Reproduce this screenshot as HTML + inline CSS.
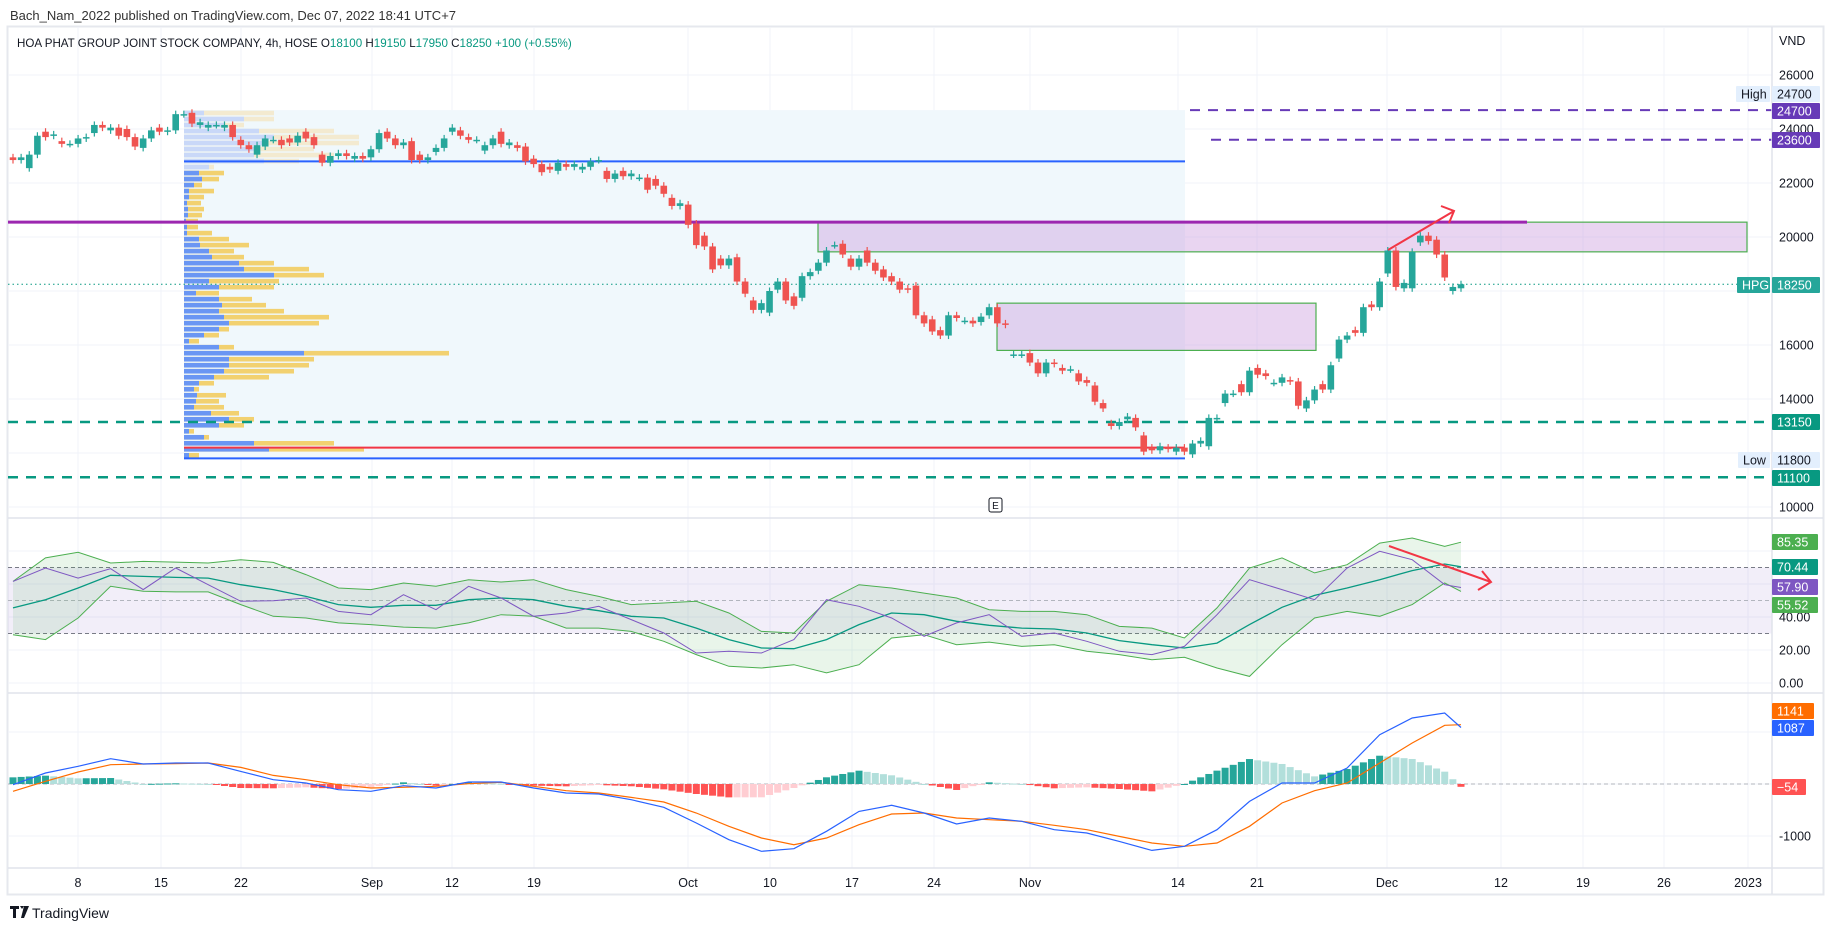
<!DOCTYPE html>
<html><head><meta charset="utf-8"><style>
body{margin:0;background:#fff;font-family:"Liberation Sans",sans-serif;}
svg{display:block}
text{font-family:"Liberation Sans",sans-serif;}
</style></head><body>
<svg id="chart" width="1834" height="931" viewBox="0 0 1834 931" xmlns="http://www.w3.org/2000/svg">
<rect x="0" y="0" width="1834" height="931" fill="#fff"/>
<text x="10" y="20" font-size="13" fill="#333">Bach_Nam_2022 published on TradingView.com, Dec 07, 2022 18:41 UTC+7</text>
<rect x="7.5" y="26.5" width="1816" height="868" fill="none" stroke="#e6e8ee" stroke-width="2"/>
<g id="grid"></g>
<g id="main"></g>
<g id="rsi"></g>
<g id="macd"></g>
<line x1="8" y1="518" x2="1823" y2="518" stroke="#e0e3eb" stroke-width="1.5"/>
<line x1="8" y1="693" x2="1823" y2="693" stroke="#e0e3eb" stroke-width="1.5"/>
<line x1="8" y1="868" x2="1823" y2="868" stroke="#e0e3eb" stroke-width="1.5"/>
<line x1="1772" y1="27" x2="1772" y2="894" stroke="#e0e3eb" stroke-width="1.5"/>
<text x="17" y="47" font-size="11.6" fill="#131722">HOA PHAT GROUP JOINT STOCK COMPANY, 4h, HOSE  <tspan>O</tspan><tspan fill="#089981">18100</tspan>  H<tspan fill="#089981">19150</tspan>  L<tspan fill="#089981">17950</tspan>  C<tspan fill="#089981">18250</tspan>  <tspan fill="#089981">+100 (+0.55%)</tspan></text>
<g id="axis" font-size="12.5" fill="#131722"></g>
<g id="time" font-size="12.5" fill="#131722"></g>
<g>
<path d="M10 906h9v3h-3v9h-3v-9h-3z M20 906h4l-2 3z M24 906h5l-5 12h-3z" fill="#131722"/>
<text x="32" y="918" font-size="14" fill="#131722">TradingView</text>
</g>
</svg>
<script>
const NS='http://www.w3.org/2000/svg';
// ---- price data (4h bars) ----
const opens=[22950,22850,22550,23050,23900,23750,23550,23450,23450,23650,
23850,24150,23950,24050,24000,23700,23300,23650,24050,23900,
23950,24550,24600,24150,24050,24150,24050,24150,23600,23400,
23050,23350,23600,23600,23650,23500,23900,23700,23050,22750,
23000,23100,22900,23000,22950,23250,23900,23650,23400,23550,
23050,22850,23150,23300,23900,23950,23700,23600,23200,23400,
23900,23400,23400,23350,22900,22700,22600,22450,22700,22600,
22500,22600,22850,22450,22150,22450,22250,22200,22200,22150,
21900,21450,21150,21200,20500,20050,19650,19200,18950,19250,
18350,17650,17300,17200,18050,18350,17800,17750,18550,18750,
19050,19700,19750,19200,18900,19500,19050,18800,18550,18350,
18100,18200,17100,16950,16550,16350,17100,16900,16900,16850,
17100,17400,16800,15650,15650,15700,15350,14950,15350,15150,
15100,14950,14700,14500,13850,13100,13000,13250,13300,12650,
12200,12100,12200,12050,12200,11950,12350,12250,13300,13850,
14200,14550,14250,15150,14950,14600,14600,14700,14650,13650,
13950,14550,14350,15500,16200,16550,16450,17500,17400,18650,
19500,18100,18100,19800,20050,19900,19350,18000,18100];
const closes=[22850,22950,23050,23750,23700,23800,23450,23450,23650,23700,
24150,24050,24050,23750,23700,23350,23650,23950,23900,23950,
24550,24550,24200,24250,24150,24150,24150,23700,23400,23250,
23400,23650,23600,23400,23500,23750,23650,23400,22750,23000,
23100,23000,23000,22900,23250,23850,23650,23400,23500,22850,
22850,22950,23300,23650,24050,23750,23600,23600,23400,23650,
23450,23500,23300,22800,22700,22400,22500,22750,22600,22700,
22600,22800,22850,22150,22350,22250,22350,22200,21750,21900,
21600,21150,21250,20450,19700,19650,18800,18950,19200,18350,
17900,17300,17550,18000,18350,17650,17450,18550,18700,19050,
19500,19700,19350,18900,19200,19050,18750,18500,18350,18050,
18050,17100,16800,16500,16350,17100,17000,16900,16800,17050,
17400,16800,16750,15650,15650,15350,14950,15350,15300,15050,
15100,14650,14600,13900,13650,13000,13150,13350,12950,12050,
12100,12250,12150,12200,12050,12350,12450,13300,13300,14200,
14200,14250,15050,14900,14850,14600,14800,14650,13750,13950,
14350,14350,15250,16200,16350,16450,17400,17400,18350,19500,
18150,18300,19450,20050,19850,19350,18500,18150,18250];
// ---- price axis ticks ----
const priceTicks=[26000,24000,22000,20000,16000,14000,10000];
const priceGridTicks=[26000,24000,22000,20000,18000,16000,14000,12000,10000];
// ---- volume profile rows ----
const vpUp=[20,60,40,75,90,80,75,70,80,25,15,18,10,5,5,3,4,4,2,3,3,15,16,25,28,55,60,90,25,35,12,35,38,35,40,45,35,20,5,35,120,45,45,40,30,15,10,13,12,10,27,45,35,5,20,70,85,5];
const vpTotal=[90,90,60,150,175,175,130,150,115,30,40,35,18,30,20,17,20,18,14,14,28,45,65,50,60,90,125,140,95,90,35,68,82,100,145,135,45,35,15,50,265,130,125,110,85,30,15,42,35,40,55,70,60,10,25,150,180,15];
// ---- RSI pane (sampled every 4 bars) ----
const sampleIdx=[0,4,8,12,16,20,24,28,32,36,40,44,48,52,56,60,64,68,72,76,80,84,88,92,96,100,104,108,112,116,120,124,128,132,136,140,144,148,152,156,160,164,168,172,176,178];
const rsiVals=[61.6,69.7,63.6,69.3,56.6,69.7,59.6,49.5,49.9,51.5,43.4,41.4,53.5,44.4,58.6,51.5,40.4,42.4,46.5,38.4,30.3,18.2,19.2,18.2,26.3,50.5,46.5,39.4,28.3,36.4,41.4,28.3,30.3,25.3,19.2,17.2,22.2,41.4,62.6,56.6,50.5,69.7,79.8,74.7,59.6,57.9];
const rsiMA=[45.5,50.5,57.6,65.3,64.6,64,63.6,59.6,56.6,52.5,47.5,45.9,47.1,47.1,50.5,51.5,50.5,46.5,43.8,40.4,39.4,33.3,26.3,21.2,20.8,26.3,35.4,42.4,41.4,37.4,35,33.3,32.7,30.3,25.7,23.2,21.2,24.2,35.4,45.9,53.1,57.6,62.6,68.1,72.1,70.4];
const rsiUpper=[61.6,75.8,79.2,72.7,73.7,73.3,72.7,74.7,73.1,65.7,57.6,56.6,60.6,58.6,62.6,61.2,62.6,56.6,52.5,47.5,48.5,49.5,42.4,31.3,30.3,49.5,59.6,57.6,54.5,51.5,44.4,43.4,43.4,41.4,34.3,33.3,27.3,45.5,69.7,75.8,66.7,71.7,84.8,87.9,82.8,85.35];
const rsiLower=[29.3,26.3,39.4,58.6,55.6,55.2,55.2,47.5,40.4,39.4,36.4,35.4,33.9,33.3,36.4,41.4,40.4,33.3,33.3,31.3,25.3,17.2,10.1,9.1,11.1,6.1,11.1,27.3,29.3,23.2,24.8,22.2,23.2,19.2,17.2,14.1,15.6,9.1,4.0,23.2,39.4,43.4,40.4,47.5,60.6,55.5];
const rsiTicks=[40,20,0];
// ---- MACD pane ----
const macdLine=[-13,211,340,487,384,404,404,243,83,19,-109,-141,-32,-77,38,38,-77,-173,-192,-301,-449,-750,-1071,-1295,-1244,-910,-526,-410,-558,-769,-654,-718,-878,-942,-1103,-1276,-1199,-878,-334,19,19,307,948,1269,1365,1087];
const signalLine=[-141,51,231,372,384,391,404,320,166,83,-13,-77,-64,-45,6,32,-45,-128,-173,-257,-346,-558,-814,-1039,-1167,-1039,-782,-577,-558,-654,-686,-718,-795,-878,-1007,-1135,-1199,-1135,-814,-366,-128,19,404,788,1128,1141];
const macdTicks=[-1000];
// ---- time axis ----
const timeLabels=['8','15','22','Sep','12','19','Oct','10','17','24','Nov','14','21','Dec','12','19','26','2023'];
const timeX=[78,161,241,372,452,534,688,770,852,934,1030,1178,1257,1387,1501,1583,1664,1748];

// ---- scales ----
const X0=13, DX=(1461-13)/178;
function xb(i){return X0+i*DX;}
function yp(p){return 237+(20000-p)*0.027;}
function yr(v){return 683-v*1.65;}
function ym(v){return 784-v*0.052;}
function mk(tag,attrs,parent){const e=document.createElementNS(NS,tag);for(const k in attrs)e.setAttribute(k,attrs[k]);parent.appendChild(e);return e;}

const grid=document.getElementById('grid'),main=document.getElementById('main'),rsi=document.getElementById('rsi'),macd=document.getElementById('macd'),axis=document.getElementById('axis'),time=document.getElementById('time');

timeX.forEach((x,i)=>{const l=mk('line',{x1:x,y1:27,x2:x,y2:868,stroke:'#f0f3fa','stroke-width':1},grid);


const t=mk('text',{x:x,y:887,'text-anchor':'middle'},time);t.textContent=timeLabels[i];

});
priceGridTicks.forEach(p=>{const l=mk('line',{x1:8,y1:yp(p),x2:1772,y2:yp(p),stroke:'#f0f3fa','stroke-width':1},grid);

});
[80,60,40,20,0].forEach(v=>{const l=mk('line',{x1:8,y1:yr(v),x2:1772,y2:yr(v),stroke:'#f0f3fa'},grid);

});
[1000,0,-1000].forEach(v=>{const l=mk('line',{x1:8,y1:ym(v),x2:1772,y2:ym(v),stroke:'#f0f3fa'},grid);

});
priceTicks.forEach(p=>{const t=mk('text',{x:1779,y:yp(p)+4.5},axis);t.textContent=p;

});
const vnd=mk('text',{x:1779,y:45},axis);vnd.textContent='VND';



const vpTop=24700,vpBot=11800;
let r=mk('rect',{x:184,y:yp(vpTop),width:1001,height:yp(vpBot)-yp(vpTop),fill:'#f0f8fc'},main);


const rowH=(yp(vpBot)-yp(vpTop))/vpUp.length;
vpUp.forEach((u,i)=>{const y=yp(vpTop)+i*rowH;const light=y<165;
const t=mk('rect',{x:184,y:y+0.6,width:vpTotal[i],height:rowH-1.4,fill:light?'#f3ead0':'#f2d170'},main);


const b=mk('rect',{x:184,y:y+0.6,width:u,height:rowH-1.4,fill:light?'#c9d8f8':'#6a96f3'},main);

});

r=mk('rect',{x:818,y:yp(20550),width:929,height:yp(19450)-yp(20550),fill:'rgba(200,150,220,0.4)',stroke:'#4caf50','stroke-width':1.2},main);


r=mk('rect',{x:997,y:yp(17550),width:319,height:yp(15800)-yp(17550),fill:'rgba(200,150,220,0.4)',stroke:'#4caf50','stroke-width':1.2},main);



function hline(p,x1,x2,color,w,dash,name){const l=mk('line',{x1:x1,y1:yp(p),x2:x2,y2:yp(p),stroke:color,'stroke-width':w},main);if(dash)l.setAttribute('stroke-dasharray',dash);

}
hline(20550,8,1527,'#9c27b0',3,null,'resistance-line');
hline(22800,184,1185,'#2962ff',2,null,'value-area-high');
hline(12200,184,1185,'#f23645',2,null,'poc-line');
hline(11800,184,1185,'#2962ff',2,null,'value-area-low');
hline(24700,1190,1772,'#673ab7',2,'10 8','dashed-24700');
hline(23600,1211,1772,'#673ab7',2,'10 8','dashed-23600');
hline(13150,8,1772,'#089981',2.5,'10 8','dashed-13150');
hline(11100,8,1772,'#089981',2.5,'10 8','dashed-11100');
hline(18250,8,1772,'#089981',1,'1.5 3','last-price-line');

opens.forEach((o,i)=>{const c=closes[i];const up=c>=o;const col=up?'#26a69a':'#ef5350';const x=xb(i);
const hi=Math.max(o,c)+130,lo=Math.min(o,c)-130;
const w=mk('line',{x1:x,y1:yp(hi),x2:x,y2:yp(lo),stroke:col,'stroke-width':1.2},main);


const top=yp(Math.max(o,c)),h=Math.max(1.5,yp(Math.min(o,c))-top);
const b=mk('rect',{x:x-3.3,y:top,width:6.6,height:h,fill:col},main);

});

let a=mk('path',{d:'M1388 250 L1454 211 M1441 206 L1454 211 L1449 223',stroke:'#f23645','stroke-width':2,fill:'none'},main);


r=mk('rect',{x:989,y:498,width:13,height:14,fill:'#fff',stroke:'#131722','stroke-width':1,rx:2},main);


let et=mk('text',{x:995.5,y:509,'font-size':10,'text-anchor':'middle',fill:'#131722'},main);et.textContent='E';



r=mk('rect',{x:8,y:yr(70),width:1764,height:yr(30)-yr(70),fill:'rgba(126,87,194,0.1)'},rsi);


[70,30].forEach(v=>{const l=mk('line',{x1:8,y1:yr(v),x2:1772,y2:yr(v),stroke:'#787b86','stroke-dasharray':'4 3'},rsi);

});
let l=mk('line',{x1:8,y1:yr(50),x2:1772,y2:yr(50),stroke:'#b2b5be','stroke-dasharray':'4 3'},rsi);


function pts(arr,fy){return arr.map((v,i)=>xb(sampleIdx[i]).toFixed(1)+','+fy(v).toFixed(1));}
const upP=pts(rsiUpper,yr),loP=pts(rsiLower,yr);
let f=mk('polygon',{points:upP.concat(loP.slice().reverse()).join(' '),fill:'rgba(76,175,80,0.12)'},rsi);


function poly(arr,fy,col,w,name,parent){const p=mk('polyline',{points:pts(arr,fy).join(' '),fill:'none',stroke:col,'stroke-width':w},parent);

}
poly(rsiUpper,yr,'#4caf50',1,'rsi-upper-band',rsi);
poly(rsiLower,yr,'#4caf50',1,'rsi-lower-band',rsi);
poly(rsiMA,yr,'#089981',1.3,'rsi-ma',rsi);
poly(rsiVals,yr,'#7e57c2',1,'rsi-line',rsi);
a=mk('path',{d:'M1389 546 L1491 582 M1478 590 L1491 582 L1482 571',stroke:'#f23645','stroke-width':2,fill:'none'},rsi);


rsiTicks.forEach(v=>{const t=mk('text',{x:1779,y:yr(v)+4.5,'font-size':12.5,fill:'#131722'},axis);t.textContent=v.toFixed(2);

});

l=mk('line',{x1:8,y1:ym(0),x2:1772,y2:ym(0),stroke:'#b2b5be','stroke-dasharray':'4 3'},macd);


const diff=macdLine.map((m,i)=>m-signalLine[i]);
function interp(arr,i){for(let k=0;k<sampleIdx.length-1;k++){if(i<=sampleIdx[k+1]){const t=(i-sampleIdx[k])/(sampleIdx[k+1]-sampleIdx[k]);return arr[k]+(arr[k+1]-arr[k])*t;}}return arr[arr.length-1];}
let prev=0;
for(let i=0;i<=178;i++){const h=(i===178)?-54:interp(diff,i);
const col=h>=0?(h>=prev?'#26a69a':'#b2dfdb'):(h<=prev?'#ff5252':'#ffcdd2');prev=h;
const y1=Math.min(ym(0),ym(h)),hh=Math.max(1,Math.abs(ym(h)-ym(0)));
const b=mk('rect',{x:xb(i)-3.5,y:y1,width:7,height:hh,fill:col},macd);

}
poly(signalLine,ym,'#ff6d00',1.2,'macd-signal-line',macd);
poly(macdLine,ym,'#2962ff',1.2,'macd-line',macd);
macdTicks.forEach(v=>{const t=mk('text',{x:1779,y:ym(v)+4.5,'font-size':12.5,fill:'#131722'},axis);t.textContent=v;

});

function tag(x,y,w,h,bg,fg,txt,name){const g=mk('g',{},axis);


mk('rect',{x:x,y:y,width:w,height:h,fill:bg,rx:1},g);const t=mk('text',{x:x+5,y:y+h/2+4.5,fill:fg,'font-size':12.5},g);t.textContent=txt;}
tag(1736,86,34,16,'#e3effd','#131722','High','high-tag');
tag(1772,86,48,16,'#e3effd','#131722','24700','high-value-tag');
tag(1772,103,48,16,'#673ab7','#fff','24700','price-label-24700');
tag(1772,132,48,16,'#673ab7','#fff','23600','price-label-23600');
tag(1737,277,33,16,'#26a69a','#fff','HPG','symbol-tag');
tag(1772,277,48,16,'#26a69a','#fff','18250','last-price-label');
tag(1772,414,48,16,'#089981','#fff','13150','price-label-13150');
tag(1738,452,32,16,'#e3effd','#131722','Low','low-tag');
tag(1772,452,48,16,'#e3effd','#131722','11800','low-value-tag');
tag(1772,470,48,16,'#089981','#fff','11100','price-label-11100');
tag(1772,534,46,16,'#4caf50','#fff','85.35','rsi-upper-label');
tag(1772,559,46,16,'#089981','#fff','70.44','rsi-ma-label');
tag(1772,579,46,16,'#7e57c2','#fff','57.90','rsi-value-label');
tag(1772,597,46,16,'#4caf50','#fff','55.52','rsi-lower-label');
tag(1772,703,42,16,'#ff6d00','#fff','1141','macd-signal-label');
tag(1772,720,42,16,'#2962ff','#fff','1087','macd-value-label');
tag(1772,779,34,16,'#ff5252','#fff','−54','macd-hist-label');
</script>
</body></html>
